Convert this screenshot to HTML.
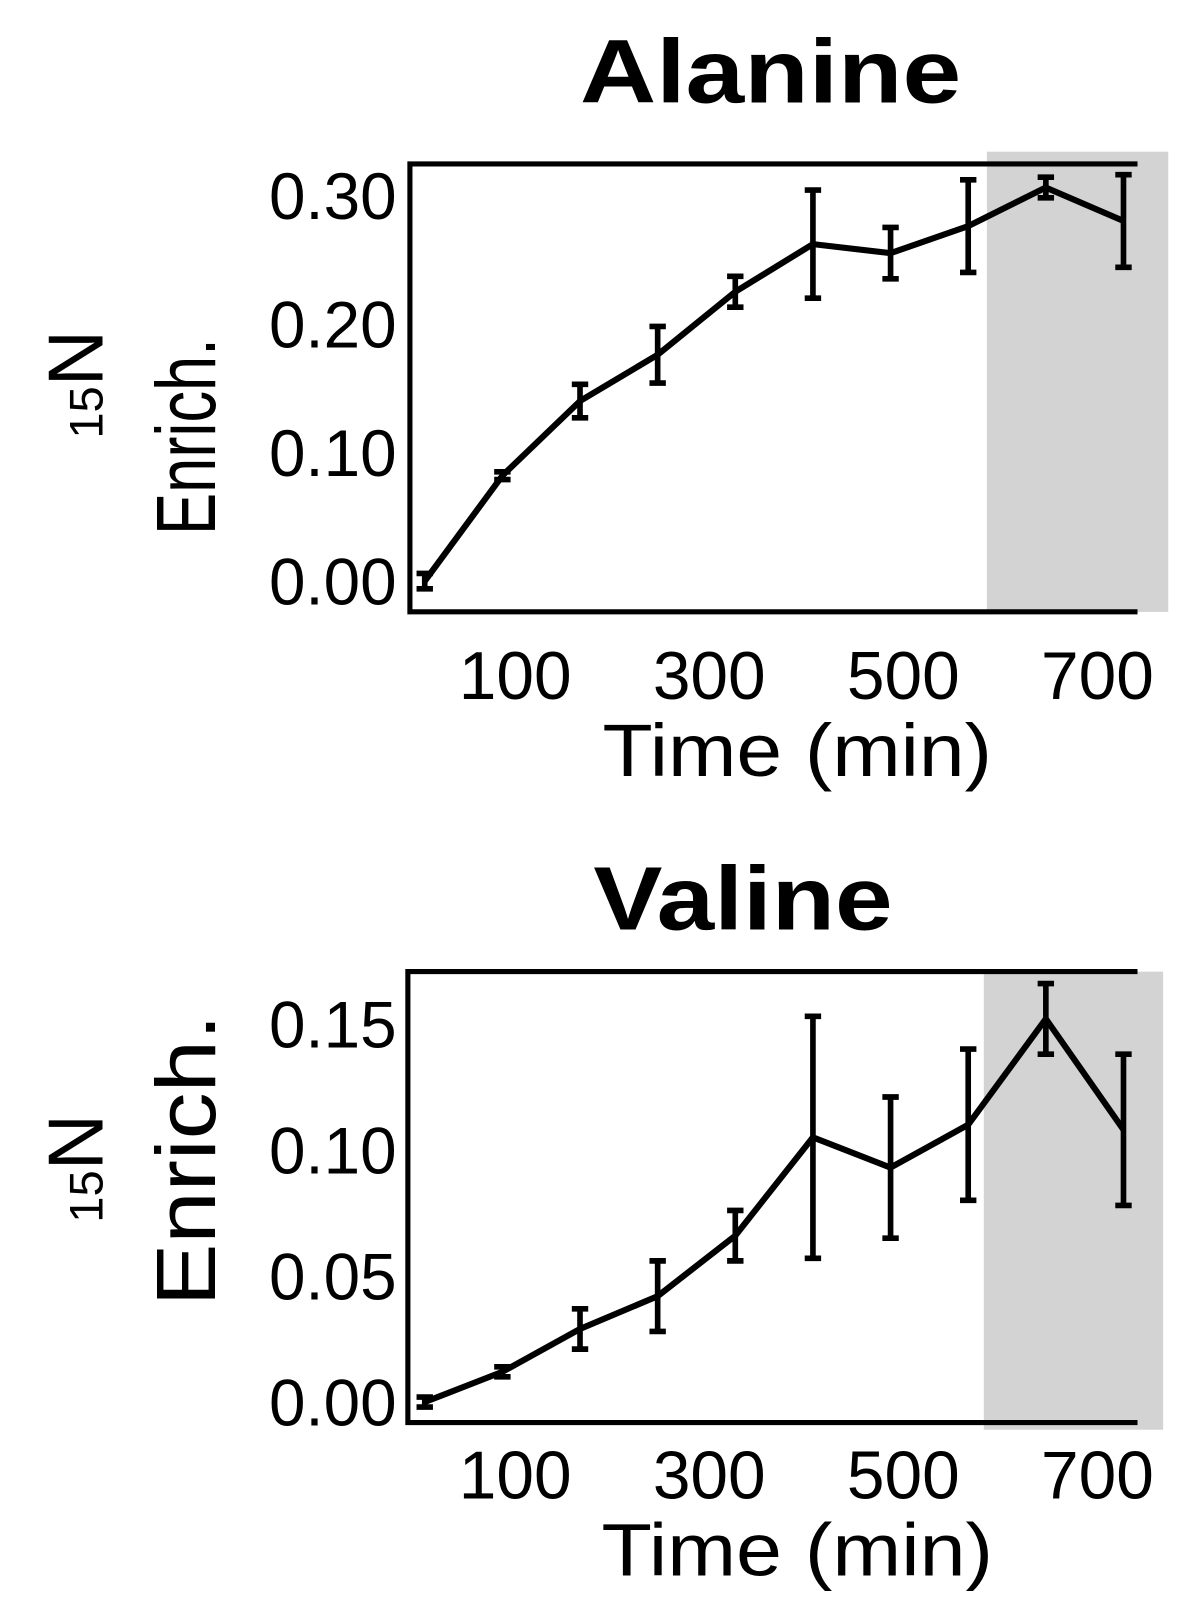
<!DOCTYPE html>
<html><head><meta charset="utf-8"><style>
html,body{margin:0;padding:0;background:#fff;}
svg{display:block;font-family:"Liberation Sans",Arial,sans-serif;}
</style></head><body>
<svg id="chart" width="1199" height="1605" viewBox="0 0 1170 1566" preserveAspectRatio="none"></svg>
<script>
const times = [10, 90, 170, 250, 330, 410, 490, 570, 650, 730];
const alanineValues = [0.000, 0.082, 0.140, 0.176, 0.225, 0.262, 0.255, 0.276, 0.306, 0.280];
const alanineErrors = [0.006, 0.003, 0.013, 0.022, 0.012, 0.042, 0.020, 0.036, 0.008, 0.036];
const valineValues = [0.000, 0.012, 0.029, 0.042, 0.066, 0.105, 0.093, 0.110, 0.152, 0.108];
const valineErrors = [0.002, 0.002, 0.008, 0.014, 0.010, 0.048, 0.028, 0.030, 0.014, 0.030];
const xTicks = [100, 300, 500, 700];
const alanineYTicks = [0.00, 0.10, 0.20, 0.30];
const valineYTicks = [0.00, 0.05, 0.10, 0.15];

const NS = "http://www.w3.org/2000/svg";
const svg = document.getElementById('chart');
function mk(tag, attrs, parent){const e=document.createElementNS(NS,tag);for(const k in attrs)e.setAttribute(k,attrs[k]);(parent||svg).appendChild(e);return e;}

function panel(cfg){
  const g = mk('g',{});
  
  
  const xS = t => cfg.x0 + t * cfg.pxPerMin;
  const yS = v => cfg.y0 - v * cfg.pxPerUnit;
  const shade = mk('rect',{x:cfg.shadeX,y:cfg.shadeTop,width:cfg.shadeW,height:cfg.shadeBottom-cfg.shadeTop,fill:'#d3d3d3'},g);
  
  
  const frame = mk('path',{d:`M${cfg.right},${cfg.top} H${cfg.left} V${cfg.bottom} H${cfg.right}`,fill:'none',stroke:'#000','stroke-width':5},g);
  
  
  const title = mk('text',{x:cfg.titleX,y:cfg.titleY,'font-size':88,'font-weight':'bold','text-anchor':'middle',textLength:cfg.titleLen,lengthAdjust:'spacingAndGlyphs'},g);
  title.textContent = cfg.title;
  
  
  cfg.yTicks.forEach(v=>{
    const t = mk('text',{x:387,y:yS(v)+23,'font-size':64,'text-anchor':'end'},g);
    t.textContent = v.toFixed(2);
    
    
  });
  xTicks.forEach(v=>{
    const t = mk('text',{x:xS(v)+3,y:cfg.xLabelY,'font-size':66,'text-anchor':'middle'},g);
    t.textContent = v;
    
    
  });
  const xt = mk('text',{x:778,y:cfg.xTitleY,'font-size':72,'text-anchor':'middle',textLength:cfg.xTitleLen,lengthAdjust:'spacingAndGlyphs'},g);
  xt.textContent = 'Time (min)';
  
  
  const yt = mk('text',{transform:`translate(100,${cfg.nY}) rotate(-90)`,'font-size':76,'text-anchor':'middle'},g);
  const s1 = mk('tspan',{'font-size':46},yt); s1.textContent='15';
  const s2 = mk('tspan',{},yt); s2.textContent='N';
  
  
  const yt2 = mk('text',{transform:`translate(210,${cfg.eY}) rotate(-90)`,'font-size':82,'text-anchor':'middle',textLength:cfg.eLen,lengthAdjust:'spacingAndGlyphs'},g);
  yt2.textContent='Enrich.';
  
  
  const pts = cfg.values.map((v,i)=>`${xS(times[i])},${yS(v)}`).join(' ');
  const line = mk('polyline',{points:pts,fill:'none',stroke:'#000','stroke-width':6,'stroke-linejoin':'round'},g);
  
  
  cfg.values.forEach((v,i)=>{
    const x=xS(times[i]), yt=yS(v+cfg.errors[i]), yb=yS(v-cfg.errors[i]);
    const e = mk('path',{d:`M${x},${yt} V${yb} M${x-8},${yt} H${x+8} M${x-8},${yb} H${x+8}`,stroke:'#000','stroke-width':5.5,fill:'none'},g);
    
    
  });
}
panel({name:'alanine-panel',title:'Alanine',titleX:752,titleY:100,titleLen:372,values:alanineValues,errors:alanineErrors,yTicks:alanineYTicks,
  x0:405,pxPerMin:0.947,y0:567,pxPerUnit:1255,left:400,right:1110,top:160,bottom:597,
  shadeX:963,shadeW:177,shadeTop:148,shadeBottom:597,xLabelY:682,xTitleY:757,xTitleLen:380,nY:375,eY:426,eLen:192});
panel({name:'valine-panel',title:'Valine',titleX:725,titleY:907,titleLen:292,values:valineValues,errors:valineErrors,yTicks:valineYTicks,
  x0:405,pxPerMin:0.947,y0:1368,pxPerUnit:2460,left:398,right:1110,top:948,bottom:1388,
  shadeX:960,shadeW:175,shadeTop:948,shadeBottom:1395,xLabelY:1462,xTitleY:1537,xTitleLen:382,nY:1140,eY:1132,eLen:285});
</script>
</body></html>
